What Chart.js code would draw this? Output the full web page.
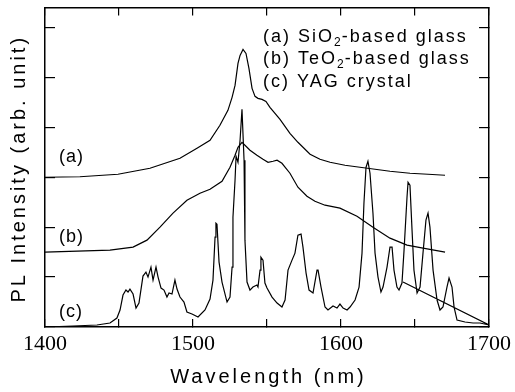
<!DOCTYPE html>
<html>
<head>
<meta charset="utf-8">
<script src="https://cdn.jsdelivr.net/npm/chart.js@4.4.1/dist/chart.umd.min.js"></script>
<style>
  html, body { margin: 0; padding: 0; background: #fff; }
</style>
</head>
<body>
<canvas id="plChart" width="515" height="392"></canvas>
<script>
// --- Data (wavelength in nm, intensity in arb. units) ---
const wlA = [1400, 1423.6, 1449.3, 1470.9, 1491.2, 1502.7, 1511.5, 1518.2, 1523.6, 1526.4, 1528.4, 1530.4, 1531.8, 1533.8, 1535.8, 1537.8, 1539.9, 1541.9, 1543.9, 1546.6, 1549.3, 1552.0, 1558.8, 1565.5, 1570.9, 1579.1, 1585.8, 1592.6, 1602.7, 1612.8, 1623.0, 1633.1, 1646.6, 1658.8, 1670.3];
const intA = [3.00, 3.01, 3.06, 3.18, 3.38, 3.58, 3.74, 4.04, 4.34, 4.60, 4.84, 5.28, 5.44, 5.56, 5.48, 5.18, 4.78, 4.62, 4.58, 4.56, 4.52, 4.40, 4.16, 3.88, 3.70, 3.46, 3.36, 3.30, 3.24, 3.20, 3.16, 3.12, 3.08, 3.06, 3.04];

const wlB = [1400, 1443.9, 1459.5, 1468.9, 1477.7, 1486.5, 1495.9, 1504.7, 1511.5, 1519.6, 1525.0, 1528.4, 1530.4, 1533.1, 1535.8, 1538.5, 1543.2, 1547.3, 1550.7, 1554.1, 1556.8, 1560.1, 1565.5, 1570.9, 1577.0, 1582.4, 1589.2, 1599.3, 1610.8, 1621.6, 1633.1, 1644.6, 1655.4, 1670.3];
const intB = [1.50, 1.54, 1.60, 1.74, 2.00, 2.28, 2.54, 2.68, 2.76, 2.92, 3.20, 3.44, 3.60, 3.70, 3.62, 3.54, 3.44, 3.36, 3.30, 3.32, 3.34, 3.28, 3.08, 2.80, 2.62, 2.52, 2.44, 2.38, 2.22, 2.00, 1.78, 1.64, 1.58, 1.50];

// last point runs back to ~1642 nm, as the straight segment in the original plot
const wlC = [1400, 1418.9, 1435.1, 1443.9, 1448.6, 1450.7, 1452.7, 1454.7, 1456.1, 1457.4,
  1459.5, 1461.5, 1463.5, 1466.2, 1468.2, 1469.6, 1471.6, 1473.0, 1475.0, 1476.4,
  1478.4, 1480.4, 1482.4, 1483.8, 1485.8, 1487.8, 1489.2, 1491.2, 1493.9, 1495.9,
  1499.3, 1503.4, 1508.1, 1511.5, 1513.5, 1514.9, 1515.5, 1516.2, 1517.6, 1519.6,
  1523.0, 1525.0, 1526.4, 1527.0, 1528.4, 1529.1, 1530.4, 1531.8, 1533.1, 1534.5,
  1535.1, 1536.5, 1538.5, 1540.5, 1543.2, 1543.9, 1545.3, 1545.9, 1547.3, 1548.6,
  1550.0, 1553.4, 1556.8, 1560.1, 1562.2, 1564.2, 1566.9, 1568.9, 1570.9, 1573.0,
  1574.3, 1576.4, 1578.4, 1581.1, 1583.8, 1584.5, 1586.5, 1589.2, 1591.2, 1594.6,
  1597.3, 1599.3, 1601.4, 1604.1, 1606.1, 1609.5, 1612.2, 1614.2, 1615.5, 1616.9,
  1618.2, 1619.6, 1621.6, 1623.0, 1625.0, 1627.0, 1628.4, 1631.1, 1633.1, 1634.5,
  1635.8, 1637.8, 1639.2, 1641.2, 1642.6, 1644.6, 1645.3, 1646.6, 1648.0, 1649.3,
  1651.4, 1653.4, 1655.4, 1657.4, 1658.8, 1660.1, 1662.2, 1664.9, 1666.9, 1668.9,
  1671.6, 1673.0, 1675.0, 1676.4, 1678.4, 1683.8, 1689.2, 1693.9, 1700, 1641.9];
const intC = [0.00, 0.02, 0.04, 0.08, 0.18, 0.34, 0.64, 0.74, 0.70, 0.76,
  0.66, 0.38, 0.48, 1.02, 1.10, 1.00, 1.20, 0.94, 1.20, 1.00,
  0.78, 0.74, 0.60, 0.68, 0.66, 0.94, 0.76, 0.60, 0.50, 0.30,
  0.26, 0.20, 0.34, 0.56, 0.94, 1.80, 2.08, 2.06, 1.30, 0.90,
  0.50, 0.60, 1.20, 2.20, 2.94, 3.42, 3.30, 3.74, 4.36, 3.34,
  1.74, 0.90, 0.74, 0.80, 0.84, 0.80, 1.14, 1.40, 1.34, 0.88,
  0.78, 0.60, 0.48, 0.40, 0.54, 1.14, 1.34, 1.48, 1.84, 1.86,
  1.60, 1.08, 0.74, 0.68, 1.14, 1.14, 0.80, 0.40, 0.34, 0.42,
  0.38, 0.46, 0.38, 0.34, 0.40, 0.54, 0.80, 1.48, 2.48, 3.20,
  3.32, 3.08, 2.28, 1.48, 1.00, 0.70, 0.80, 1.20, 1.60, 1.60,
  1.14, 0.80, 0.74, 0.88, 1.54, 2.60, 2.90, 2.84, 1.94, 1.14,
  0.68, 0.80, 1.48, 2.14, 2.28, 2.00, 1.14, 0.54, 0.34, 0.40,
  0.80, 0.98, 0.80, 0.40, 0.14, 0.10, 0.08, 0.08, 0.04, 0.90];

const xTickLabels = [1400, 1500, 1600, 1700];
const curveTags = ['(a)', '(b)', '(c)'];
const legendLines = [
  ['(a) SiO', '2', '-based glass'],
  ['(b) TeO', '2', '-based glass'],
  ['(c) YAG crystal', '', '']
];

const toPoints = (xs, ys) => xs.map((x, i) => ({ x: x, y: ys[i] }));

const SANS = '"Liberation Sans", Arial, sans-serif';

// --- Texts drawn on top: axis titles (letter-spaced), curve tags, legend ---
const textPlugin = {
  id: 'texts',
  afterDraw(chart) {
    const ctx = chart.ctx;
    const area = chart.chartArea;
    ctx.save();
    ctx.fillStyle = '#000';

    // x title
    ctx.font = '20px ' + SANS;
    ctx.letterSpacing = '3px';
    ctx.textAlign = 'center';
    ctx.textBaseline = 'alphabetic';
    ctx.fillText('Wavelength (nm)', (area.left + area.right) / 2 + 1.5, 383);

    // y title
    ctx.save();
    ctx.translate(25, (area.top + area.bottom) / 2 + 1.5);
    ctx.rotate(-Math.PI / 2);
    ctx.fillText('PL Intensity (arb. unit)', 0, 0);
    ctx.restore();

    // curve tags
    ctx.font = '18px ' + SANS;
    ctx.letterSpacing = '1px';
    ctx.textAlign = 'left';
    const tagY = [162, 242, 317];
    curveTags.forEach((t, i) => ctx.fillText(t, area.left + 14, tagY[i]));

    // legend with subscripts
    let y = 41.5;
    legendLines.forEach(parts => {
      let x = 263;
      ctx.font = '18px ' + SANS;
      ctx.letterSpacing = '2px';
      ctx.fillText(parts[0], x, y);
      x += ctx.measureText(parts[0]).width;
      if (parts[1]) {
        ctx.font = '12px ' + SANS;
        ctx.letterSpacing = '1px';
        ctx.fillText(parts[1], x, y + 4);
        x += ctx.measureText(parts[1]).width;
        ctx.font = '18px ' + SANS;
        ctx.letterSpacing = '2px';
        ctx.fillText(parts[2], x, y);
      }
      y += 22.5;
    });
    ctx.restore();
  }
};

const lineStyle = { borderColor: '#000', borderWidth: 1.2, pointRadius: 0, showLine: true, tension: 0, fill: false };

const edge = { color: '#000', width: 1.5 };
const tickGrid = (len) => ({ drawOnChartArea: false, drawTicks: true, tickLength: -len, color: '#000', lineWidth: 1.2 });

new Chart(document.getElementById('plChart'), {
  type: 'scatter',
  data: {
    datasets: [
      Object.assign({ label: 'a', data: toPoints(wlA, intA) }, lineStyle),
      Object.assign({ label: 'b', data: toPoints(wlB, intB) }, lineStyle),
      Object.assign({ label: 'c', data: toPoints(wlC, intC) }, lineStyle)
    ]
  },
  options: {
    responsive: false,
    animation: false,
    devicePixelRatio: 1,
    layout: { padding: { top: 0, right: 0, left: 0, bottom: 0 } },
    plugins: { legend: { display: false }, tooltip: { enabled: false } },
    scales: {
      x: {
        type: 'linear', position: 'bottom', min: 1400, max: 1700,
        ticks: {
          stepSize: 50, autoSkip: false, maxRotation: 0, padding: 12,
          color: '#000', font: { family: '"Liberation Serif", "Times New Roman", serif', size: 22 },
          callback: v => xTickLabels.includes(v) ? String(v) : ''
        },
        grid: tickGrid(8),
        border: edge,
        afterFit: s => { s.height = 65; s.paddingRight = 0; s.paddingLeft = 0; }
      },
      x2: {
        type: 'linear', position: 'top', min: 1400, max: 1700,
        ticks: { stepSize: 50, display: false },
        grid: tickGrid(8),
        border: edge,
        afterFit: s => { s.height = 7.5; }
      },
      y: {
        type: 'linear', position: 'left', min: 0, max: 6.4,
        ticks: { stepSize: 1, includeBounds: false, display: false },
        grid: tickGrid(10),
        border: edge,
        afterFit: s => { s.width = 45; }
      },
      y2: {
        type: 'linear', position: 'right', min: 0, max: 6.4,
        ticks: { stepSize: 1, includeBounds: false, display: false },
        grid: tickGrid(10),
        border: edge,
        afterFit: s => { s.width = 26; }
      }
    }
  },
  plugins: [textPlugin]
});
</script>
</body>
</html>
